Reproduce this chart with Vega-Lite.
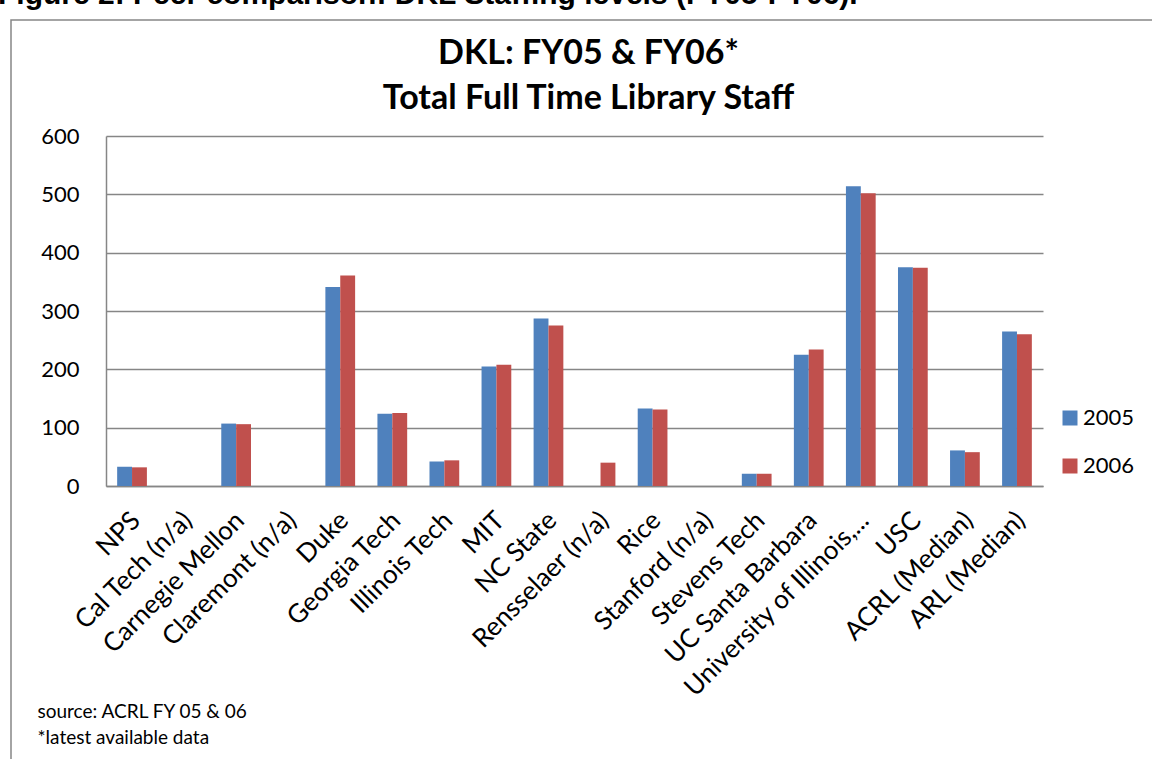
{
  "$schema": "https://vega.github.io/schema/vega-lite/v6.json",
  "width": 937,
  "height": 350,
  "autosize": {"type": "none"},
  "padding": {"left": 106, "top": 136, "right": 109, "bottom": 273},
  "background": "white",
  "title": {
    "text": "Figure 2: Peer comparison: DKL Staffing levels (FY05-FY06).",
    "frame": "group",
    "anchor": "start",
    "font": "Liberation Sans",
    "fontSize": 30,
    "fontWeight": "bold",
    "color": "black",
    "dx": -108,
    "dy": -5
  },
  "data": {
    "values": [
      {"inst": "NPS", "year": "2005", "staff": 33},
      {"inst": "NPS", "year": "2006", "staff": 32},
      {"inst": "Carnegie Mellon", "year": "2005", "staff": 107},
      {"inst": "Carnegie Mellon", "year": "2006", "staff": 106},
      {"inst": "Duke", "year": "2005", "staff": 341},
      {"inst": "Duke", "year": "2006", "staff": 361},
      {"inst": "Georgia Tech", "year": "2005", "staff": 124},
      {"inst": "Georgia Tech", "year": "2006", "staff": 125},
      {"inst": "Illinois Tech", "year": "2005", "staff": 42},
      {"inst": "Illinois Tech", "year": "2006", "staff": 44},
      {"inst": "MIT", "year": "2005", "staff": 205},
      {"inst": "MIT", "year": "2006", "staff": 208},
      {"inst": "NC State", "year": "2005", "staff": 287},
      {"inst": "NC State", "year": "2006", "staff": 275},
      {"inst": "Rensselaer (n/a)", "year": "2006", "staff": 40},
      {"inst": "Rice", "year": "2005", "staff": 133},
      {"inst": "Rice", "year": "2006", "staff": 131},
      {"inst": "Stevens Tech", "year": "2005", "staff": 21},
      {"inst": "Stevens Tech", "year": "2006", "staff": 21},
      {"inst": "UC Santa Barbara", "year": "2005", "staff": 225},
      {"inst": "UC Santa Barbara", "year": "2006", "staff": 234},
      {"inst": "University of Illinois,...", "year": "2005", "staff": 514},
      {"inst": "University of Illinois,...", "year": "2006", "staff": 502},
      {"inst": "USC", "year": "2005", "staff": 375},
      {"inst": "USC", "year": "2006", "staff": 374},
      {"inst": "ACRL (Median)", "year": "2005", "staff": 61},
      {"inst": "ACRL (Median)", "year": "2006", "staff": 58},
      {"inst": "ARL (Median)", "year": "2005", "staff": 265},
      {"inst": "ARL (Median)", "year": "2006", "staff": 260}
    ]
  },
  "mark": {"type": "bar"},
  "encoding": {
    "x": {
      "field": "inst",
      "type": "nominal",
      "sort": null,
      "scale": {
        "domain": ["NPS", "Cal Tech (n/a)", "Carnegie Mellon", "Claremont (n/a)", "Duke", "Georgia Tech", "Illinois Tech", "MIT", "NC State", "Rensselaer (n/a)", "Rice", "Stanford (n/a)", "Stevens Tech", "UC Santa Barbara", "University of Illinois,...", "USC", "ACRL (Median)", "ARL (Median)"],
        "paddingInner": 0.4286,
        "paddingOuter": 0.2143
      },
      "axis": {
        "title": ["source: ACRL FY 05 & 06", "*latest available data"],
        "titleX": -69,
        "titleY": 231,
        "titleAlign": "left",
        "titleAnchor": "start",
        "titleBaseline": "alphabetic",
        "titleFont": "Lato",
        "titleFontSize": 19,
        "titleFontWeight": "normal",
        "titleLineHeight": 26,
        "titleColor": "black",
        "labelAngle": -45,
        "labelAlign": "right",
        "labelBaseline": "middle",
        "labelFont": "Lato",
        "labelFontSize": 26,
        "labelColor": "black",
        "labelPadding": 30,
        "labelOffset": 4,
        "labelOverlap": false,
        "labelLimit": 0,
        "ticks": false,
        "domainColor": "#868686",
        "domainWidth": 1.5,
        "grid": false
      }
    },
    "xOffset": {"field": "year", "type": "nominal", "scale": {"paddingInner": 0, "paddingOuter": 0}},
    "y": {
      "field": "staff",
      "type": "quantitative",
      "scale": {"domain": [0, 600], "nice": false},
      "axis": {
        "values": [0, 100, 200, 300, 400, 500, 600],
        "title": ["DKL: FY05 & FY06*", "Total Full Time Library Staff"],
        "titleAngle": 0,
        "titleX": 482,
        "titleY": -73,
        "titleAlign": "center",
        "titleBaseline": "alphabetic",
        "titleFont": "Lato",
        "titleFontSize": 34,
        "titleFontWeight": "bold",
        "titleLineHeight": 45,
        "titleColor": "black",
        "labelFont": "Lato",
        "labelFontSize": 22,
        "labelColor": "black",
        "labelPadding": 27,
        "ticks": false,
        "domainColor": "#868686",
        "domainWidth": 1.5,
        "grid": true,
        "gridColor": "#868686",
        "gridWidth": 1.5
      }
    },
    "color": {
      "field": "year",
      "type": "nominal",
      "scale": {"domain": ["2005", "2006"], "range": ["#4F81BD", "#C0504D"]},
      "legend": {
        "orient": "none",
        "legendX": 953,
        "legendY": 271,
        "title": null,
        "symbolType": "square",
        "symbolSize": 225,
        "symbolStrokeWidth": 0,
        "labelFont": "Lato",
        "labelFontSize": 22,
        "labelColor": "black",
        "labelOffset": 2,
        "rowPadding": 26
      }
    },
    "strokeDash": {
      "datum": "frame",
      "type": "nominal",
      "scale": {"range": [[1, 0]]},
      "legend": {
        "orient": "none",
        "legendX": -95,
        "legendY": -116,
        "padding": 900,
        "strokeColor": "#868686",
        "title": null,
        "labelExpr": "''",
        "symbolOpacity": 0,
        "symbolSize": 0,
        "symbolStrokeWidth": 0
      }
    }
  },
  "config": {
    "view": {"stroke": null},
    "legend": {"strokeWidth": 1.5}
  }
}
